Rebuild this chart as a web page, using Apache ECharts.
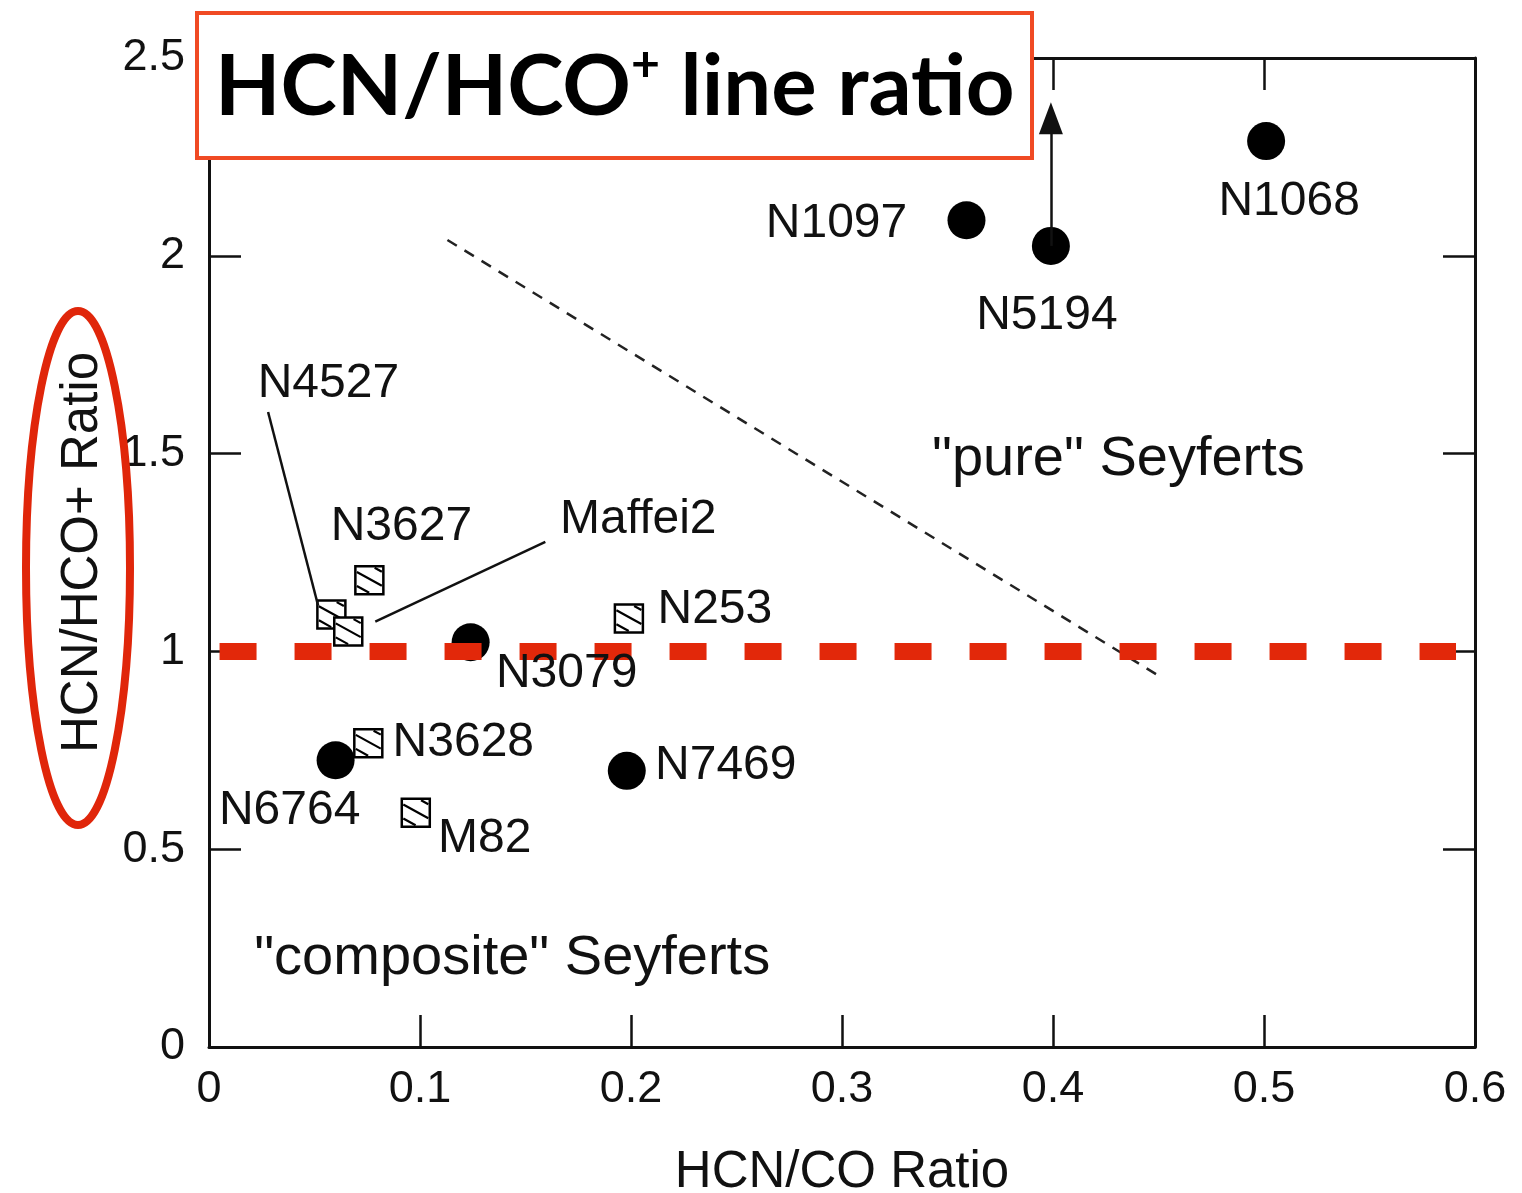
<!DOCTYPE html>
<html><head><meta charset="utf-8">
<script src="https://cdn.jsdelivr.net/npm/echarts@6/dist/echarts.min.js"></script>
<style>html,body{margin:0;padding:0;background:#fff}#c{width:1522px;height:1193px}</style>
</head><body><div id="c"></div>
<script>
// ---- data ----
const circleNames = ['N1068','N1097','N5194','N3079','N6764','N7469'];
const circleX = [0.501,0.359,0.399,0.124,0.060,0.198];
const circleY = [2.29,2.09,2.025,1.023,0.725,0.698];
const squareNames = ['N3627','N4527','Maffei2','N253','N3628','M82'];
const squareX = [0.076,0.058,0.066,0.199,0.0755,0.098];
const squareY = [1.18,1.093,1.05,1.083,0.768,0.592];
const xTicks = ['0','0.1','0.2','0.3','0.4','0.5','0.6'];
const yTicks = ['0','0.5','1','1.5','2','2.5'];
const divider = [[0.113,2.04],[0.449,0.942]];           // dashed boundary line
const limitArrow = [[0.399,2.025],[0.399,2.348]];       // N5194 lower limit
const thresholdY = 1.0;                                 // red reference line
const thresholdRange = [0.005,0.591];
const leaderLines = [[[0.028,1.605],[0.0517,1.116]],[[0.1594,1.277],[0.0788,1.0755]]];
const regionNames = ['"pure" Seyferts','"composite" Seyferts'];
const regionX = [0.431,0.1437];
const regionY = [1.484,0.224];

// ---- layout (label offsets in px) ----
const labelOffsets = {
  N1068:[23,61], N1097:[-130,4], N5194:[-4,70], N3079:[96,31], N6764:[-46,51], N7469:[99,-5],
  N3627:[32,-53], N4527:[-3,-231], Maffei2:[290,-112], N253:[86,-9], N3628:[95,0], M82:[69,26]
};

const FONT = '"Liberation Sans", Arial, Helvetica, sans-serif';
const INK = '#111';
const chart = echarts.init(document.getElementById('c'), null, {renderer:'canvas'});

const allNames = circleNames.concat(squareNames);
const allX = circleX.concat(squareX);
const allY = circleY.concat(squareY);

function clipLine(m, c, h) {
  let x1 = (-h - c) / m, x2 = (h - c) / m;
  let lo = Math.max(-h, Math.min(x1, x2)), hi = Math.min(h, Math.max(x1, x2));
  if (lo >= hi) return null;
  return [lo, m*lo + c, hi, m*hi + c];
}

function axisCommon() {
  return {
    axisLine:{show:true, onZero:false, lineStyle:{color:INK, width:3}},
    axisTick:{show:true, inside:true, length:32, lineStyle:{color:INK, width:2.5}},
    splitLine:{show:false}
  };
}

const option = {
  backgroundColor:'#fff',
  animation:false,
  grid:{left:209, top:58, width:1266, height:989, containLabel:false, outerBoundsMode:'none'},
  xAxis:[
    Object.assign({type:'value', min:0, max:0.6, interval:0.1, position:'bottom',
      name:'HCN/CO Ratio', nameLocation:'middle', nameGap:100,
      nameTextStyle:{fontFamily:FONT, fontSize:51, color:INK},
      axisLabel:{fontFamily:FONT, fontSize:45, color:INK, margin:20,
        formatter:(v)=>xTicks[Math.round(v*10)]}}, axisCommon()),
    Object.assign({type:'value', min:0, max:0.6, interval:0.1, position:'top',
      axisLabel:{show:false}}, axisCommon())
  ],
  yAxis:[
    Object.assign({type:'value', min:0, max:2.5, interval:0.5, position:'left',
      name:'HCN/HCO+ Ratio', nameLocation:'middle', nameGap:101, nameRotate:90,
      nameTextStyle:{fontFamily:FONT, fontSize:51, color:INK},
      axisLabel:{fontFamily:FONT, fontSize:45, color:INK, margin:24,
        formatter:(v)=>yTicks[Math.round(v*2)]}}, axisCommon()),
    Object.assign({type:'value', min:0, max:2.5, interval:0.5, position:'right',
      axisLabel:{show:false}}, axisCommon())
  ],
  series:[
    {
      type:'line', data:[], z:3, silent:true,
      markLine:{
        silent:true, symbol:'none', label:{show:false}, animation:false,
        data:[
          [{coord:divider[0], lineStyle:{color:'#222', width:2.5, type:[11,9]}}, {coord:divider[1]}],
          [{coord:leaderLines[0][0], lineStyle:{color:INK, width:2.5, type:'solid'}}, {coord:leaderLines[0][1]}],
          [{coord:leaderLines[1][0], lineStyle:{color:INK, width:2.5, type:'solid'}}, {coord:leaderLines[1][1]}],
          [{coord:limitArrow[0], symbol:'none', lineStyle:{color:INK, width:2.5, type:'solid'}},
           {coord:limitArrow[1], symbol:'triangle', symbolSize:[24,32]}]
        ]
      }
    },
    {
      type:'scatter', name:'circles', z:4, symbol:'circle', symbolSize:38,
      itemStyle:{color:'#000', opacity:1},
      data:circleX.map((x,i)=>[x, circleY[i]])
    },
    {
      type:'custom', name:'squares', z:4,
      renderItem:function(params, api){
        const p = api.coord([api.value(0), api.value(1)]);
        const s = 28, h = s/2;
        const children = [{type:'rect', shape:{x:p[0]-h, y:p[1]-h, width:s, height:s},
          style:{fill:'#fff', stroke:'#000', lineWidth:2.5}}];
        [-0.55*s, -0.05*s, 0.45*s].forEach(c=>{
          const L = clipLine(0.55, c, h-1.5);
          if (L) children.push({type:'line', shape:{x1:p[0]+L[0], y1:p[1]+L[1], x2:p[0]+L[2], y2:p[1]+L[3]},
            style:{stroke:'#000', lineWidth:2.2}});
        });
        return {type:'group', children:children};
      },
      data:squareX.map((x,i)=>[x, squareY[i]])
    },
    {
      type:'scatter', name:'labels', z:5, symbolSize:0, silent:true,
      itemStyle:{color:'rgba(0,0,0,0)', opacity:1},
      data:allX.map((x,i)=>({name:allNames[i], value:[x, allY[i]],
        label:{show:true, position:'inside', offset:labelOffsets[allNames[i]], formatter:allNames[i],
          fontFamily:FONT, fontSize:48, color:INK, opacity:1}}))
    },
    {
      type:'scatter', name:'regions', z:5, symbolSize:0, silent:true,
      itemStyle:{color:'rgba(0,0,0,0)', opacity:1},
      data:regionX.map((x,i)=>({name:regionNames[i], value:[x, regionY[i]],
        label:{show:true, position:'inside', formatter:regionNames[i],
          fontFamily:FONT, fontSize:56, color:INK, opacity:1}}))
    },
    {
      type:'line', data:[], z:8, silent:true,
      markLine:{
        silent:true, symbol:'none', label:{show:false}, animation:false,
        data:[[{coord:[thresholdRange[0], thresholdY],
                lineStyle:{color:'#e2280a', width:17, type:[37,38], cap:'butt'}},
               {coord:[thresholdRange[1], thresholdY]}]]
      }
    }
  ],
  graphic:[
    {type:'rect', z:100, shape:{x:197, y:13, width:835, height:145},
      style:{fill:'#fff', stroke:'#f04a24', lineWidth:4}},
    {type:'text', z:101, left:215, top:30,
      style:{text:'{m|HCN/HCO}{s|+}{m| line ratio}', fill:'#000',
        rich:{m:{fontFamily:'Lato, "Open Sans", sans-serif', fontWeight:'bold', fontSize:85, lineHeight:100, verticalAlign:'bottom'},
              s:{fontFamily:'Lato, "Open Sans", sans-serif', fontWeight:'bold', fontSize:50, lineHeight:100, verticalAlign:'top', padding:[10,0,0,0]}}}},
    {type:'ellipse', z:100, shape:{cx:78, cy:568, rx:52, ry:257},
      style:{fill:'none', stroke:'#e0260a', lineWidth:8}}
  ]
};
chart.setOption(option);
</script>
</body></html>
